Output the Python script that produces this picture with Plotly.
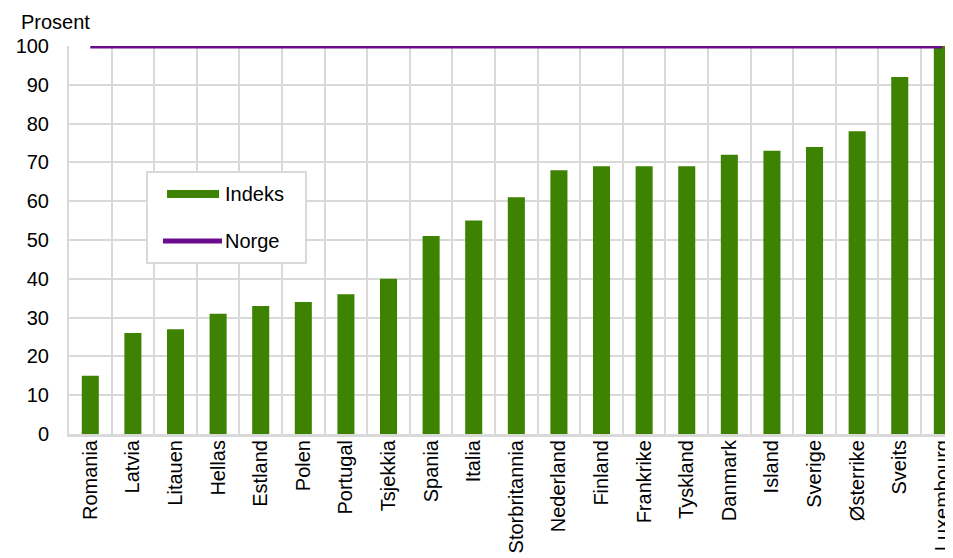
import plotly.graph_objects as go

countries = ["Romania", "Latvia", "Litauen", "Hellas", "Estland", "Polen", "Portugal",
             "Tsjekkia", "Spania", "Italia", "Storbritannia", "Nederland", "Finland",
             "Frankrike", "Tyskland", "Danmark", "Island", "Sverige", "Østerrike",
             "Sveits", "Luxembourg"]
indeks = [15, 26, 27, 31, 33, 34, 36, 40, 51, 55, 61, 68, 69, 69, 69, 72, 73, 74, 78, 92, 100]
norge = [100] * len(countries)
y_ticks = [0, 10, 20, 30, 40, 50, 60, 70, 80, 90, 100]

GREEN = "#3d8200"
PURPLE = "#6a0c8c"
GRID = "#d9d9d9"
FONT = "Liberation Sans, Arial, sans-serif"

fig = go.Figure()
fig.add_trace(go.Bar(x=countries, y=indeks, name="Indeks", marker_color=GREEN,
                     marker_line_width=0, width=0.4, showlegend=False))
fig.add_trace(go.Scatter(x=countries, y=norge, name="Norge", mode="lines",
                         line=dict(color=PURPLE, width=5), cliponaxis=False,
                         showlegend=False))

# custom legend (box, symbols, labels)
lx0, lx1, ly0, ly1 = 0.0882, 0.2681, 0.4407, 0.675
fig.add_shape(type="rect", xref="paper", yref="paper", x0=lx0, x1=lx1, y0=ly0, y1=ly1,
              line=dict(color=GRID, width=2), fillcolor="white", layer="above")
fig.add_shape(type="line", xref="paper", yref="paper", x0=0.1109, x1=0.1697,
              y0=0.6186, y1=0.6186, line=dict(color=GREEN, width=8), layer="above")
fig.add_shape(type="line", xref="paper", yref="paper", x0=0.1063, x1=0.1731,
              y0=0.4974, y1=0.4974, line=dict(color=PURPLE, width=5), layer="above")
fig.add_annotation(text="Indeks", xref="paper", yref="paper", x=0.1745, y=0.6186,
                   xanchor="left", yanchor="middle", showarrow=False,
                   font=dict(size=20, color="black", family=FONT))
fig.add_annotation(text="Norge", xref="paper", yref="paper", x=0.1745, y=0.4974,
                   xanchor="left", yanchor="middle", showarrow=False,
                   font=dict(size=20, color="black", family=FONT))
fig.add_annotation(text="Prosent", xref="paper", yref="paper", x=-0.0565, y=1.062,
                   xanchor="left", yanchor="middle", showarrow=False,
                   font=dict(size=20, color="black", family=FONT))

# page body has an 8px default margin, so the figure is sized to fit the window
fig.update_layout(
    width=945, height=550,
    margin=dict(l=61, r=0, t=38, b=124),
    paper_bgcolor="white", plot_bgcolor="white",
    font=dict(family=FONT, size=20, color="black"),
    bargap=0.6,
    xaxis=dict(type="category", range=[-0.5, 20.25], tickangle=-90, automargin=False,
               tickson="boundaries", showgrid=True, gridcolor=GRID, gridwidth=2,
               showline=True, linecolor=GRID, linewidth=3, ticks="", ticklen=0,
               ticklabelstandoff=-5, tickfont=dict(size=20)),
    yaxis=dict(range=[0, 100], tickvals=y_ticks, showgrid=True, gridcolor=GRID,
               gridwidth=2, showline=True, linecolor=GRID, linewidth=2, automargin=False,
               zeroline=False, ticks="", ticklabelstandoff=14,
               tickfont=dict(size=20)),
)

fig.write_html("out.html")
